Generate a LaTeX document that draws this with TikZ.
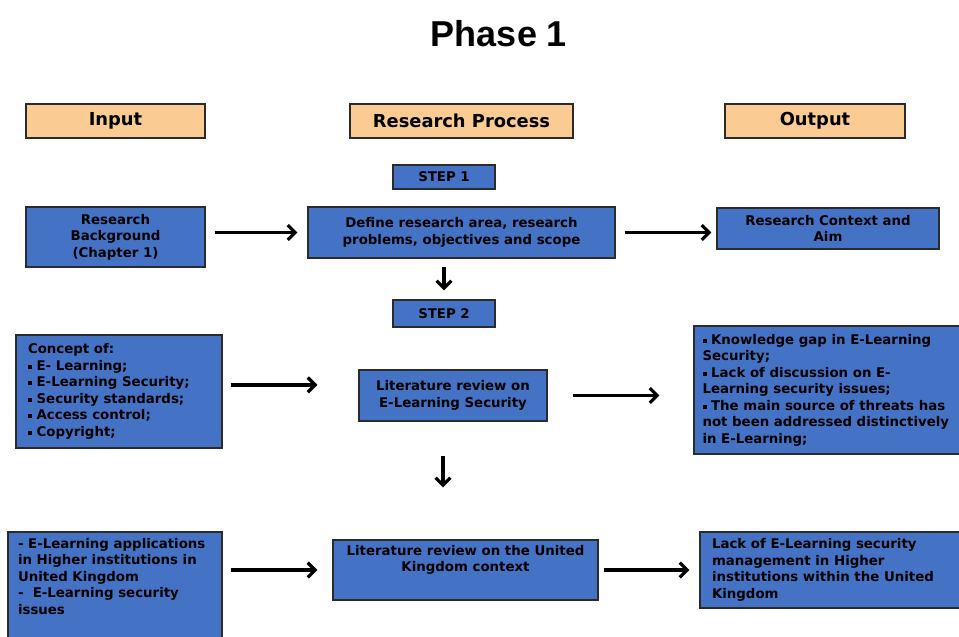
\documentclass[tikz,border=0pt]{standalone}
\usepackage{fontspec}
\setmainfont{DejaVu Sans}
\newfontfamily\titlefont{Liberation Sans}
\usetikzlibrary{arrows.meta}
\definecolor{boxblue}{HTML}{4472C4}
\definecolor{headpeach}{HTML}{FBCB94}
\definecolor{edgegray}{HTML}{2B2B2B}
\tikzset{
  pxsize/.style 2 args={minimum width=#1*0.75pt, minimum height=#2*0.75pt},
  bluebox/.style={draw=edgegray, line width=0.8pt, fill=boxblue, inner sep=0pt,
    font=\bfseries\fontsize{10}{12.4}\selectfont, align=center},
  headbox/.style={draw=edgegray, line width=0.8pt, fill=headpeach, inner sep=0pt,
    font=\bfseries\fontsize{13.4}{16}\selectfont},
  arr/.style={line width=2.5pt, -{Straight Barb[length=5.5pt,width=11pt]}},
}
\newcommand{\sqb}{\raisebox{0.2ex}{\rule{0.3em}{0.3em}}\ }
\begin{document}
\begin{tikzpicture}[x=0.75pt, y=-0.75pt]
\useasboundingbox (0,0) rectangle (959,636);
\clip (0,0) rectangle (959,636);

% title
\node[font=\titlefont\bfseries\fontsize{27}{30}\selectfont] (title) at (499,34) {Phase 1};

% column headings
\node[headbox, pxsize={179}{34}] (inhead) at (115.5,121) {Input};
\node[headbox, pxsize={223}{34}] (rphead) at (461.5,121) {Research Process};
\node[headbox, pxsize={180}{34}] (outhead) at (815,121) {Output};

% step 1
\node[bluebox, pxsize={102}{24}] (step1) at (444,177) {STEP 1};
\node[bluebox, pxsize={179}{60}] (bg) at (115.5,237) {Research\\Background\\(Chapter 1)};
\node[bluebox, pxsize={307}{51}] (define) at (461.5,232.5) {Define research area, research\\problems, objectives and scope};
\node[bluebox, pxsize={222}{41}] (ctx) at (828,228.5) {Research Context and\\Aim};

% step 2
\node[bluebox, pxsize={102}{27}] (step2) at (444,313.5) {STEP 2};
\node[bluebox, pxsize={206}{113}, align=left] (concept) at (119,391.5)
  {\parbox{182\dimexpr0.75pt\relax}{Concept of:\\
   \sqb E- Learning;\\
   \sqb E-Learning Security;\\
   \sqb Security standards;\\
   \sqb Access control;\\
   \sqb Copyright;}};
\node[bluebox, pxsize={188}{51}] (litsec) at (453,395.5) {Literature review on\\E-Learning Security};
\node[bluebox, pxsize={269}{128}, align=left] (gap) at (828.5,390)
  {\parbox{252\dimexpr0.75pt\relax}{\raggedright
   \sqb Knowledge gap in E-Learning Security;\\
   \sqb Lack of discussion on E-\\Learning security issues;\\
   \sqb The main source of threats has not been addressed distinctively in E-Learning;}};

% united kingdom context
\node[bluebox, pxsize={214}{118}, align=left] (ukin) at (115,591)
  {\parbox[c][106\dimexpr0.75pt\relax][t]{194\dimexpr0.75pt\relax}{\raggedright
   - E-Learning applications in Higher institutions in United Kingdom\\
   -\ \ E-Learning security issues}};
\node[bluebox, pxsize={265}{60}] (lituk) at (465.5,570)
  {\parbox[c][50\dimexpr0.75pt\relax][t]{250\dimexpr0.75pt\relax}{\centering
   Literature review on the United\\Kingdom context}};
\node[bluebox, pxsize={262}{76}, align=left] (lack) at (831,570)
  {\parbox{238\dimexpr0.75pt\relax}{\raggedright
   Lack of E-Learning security management in Higher institutions within the United Kingdom}};

% connectors
\draw[arr, shorten <=9*0.75pt, shorten >=10*0.75pt] (bg.east |- define.west) -- (define.west);
\draw[arr, shorten <=9*0.75pt, shorten >=5*0.75pt] (define.east) -- (define.east -| ctx.west);
\draw[arr, shorten <=8*0.75pt, shorten >=9*0.75pt] (step2.north |- define.south) -- (step2.north);
\draw[arr, shorten <=8*0.75pt, shorten >=41*0.75pt] ([yshift=5pt]concept.east) -- ([yshift=5pt]concept.east -| litsec.west);
\draw[arr, shorten <=25*0.75pt, shorten >=34*0.75pt] (litsec.east) -- (litsec.east -| gap.west);
\draw[arr, shorten <=34*0.75pt, shorten >=52*0.75pt] ([xshift=-7.5pt]litsec.south) -- ([xshift=-7.5pt]litsec.south |- lituk.north);
\draw[arr, shorten <=8*0.75pt, shorten >=15*0.75pt] (ukin.east |- lituk.west) -- (lituk.west);
\draw[arr, shorten <=5*0.75pt, shorten >=10*0.75pt] (lituk.east) -- (lituk.east -| lack.west);
\end{tikzpicture}
\end{document}
